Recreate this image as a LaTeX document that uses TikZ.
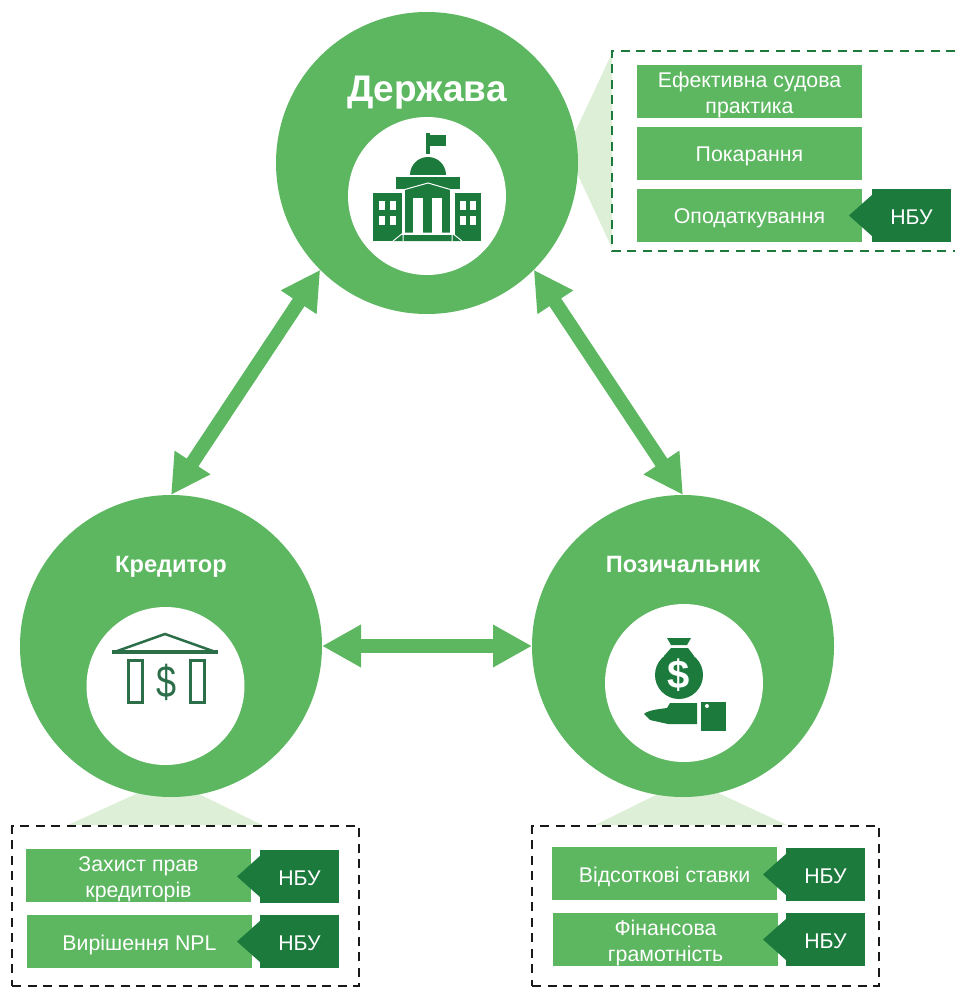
\documentclass[tikz,border=0pt]{standalone}
\usepackage{fontspec}
\setmainfont{Liberation Sans}
\usetikzlibrary{arrows.meta}
\definecolor{mygreen}{HTML}{5DB761}
\definecolor{mydark}{HTML}{1C7A3D}
\definecolor{mylight}{HTML}{DDEFD6}
\definecolor{myicon}{HTML}{2B6E48}
\tikzset{
  bigcircle/.style={circle,fill=mygreen,minimum size=302pt,inner sep=0pt,outer sep=0pt},
  whitecircle/.style={circle,fill=white,minimum size=158pt,inner sep=0pt,outer sep=0pt},
  item/.style={fill=mygreen,minimum width=225pt,minimum height=53pt,inner sep=0pt,outer sep=0pt},
  itemtext/.style={text=white,inner sep=0pt,align=center,font=\fontsize{21.3}{26}\selectfont},
  tag/.style={fill=mydark,text=white,minimum width=79pt,minimum height=53pt,inner sep=0pt,outer sep=0pt,text height=17pt,text depth=0pt,font=\fontsize{21.3}{26}\selectfont},
  title/.style={text=white,anchor=base,font=\bfseries\fontsize{23.6}{28}\selectfont,inner sep=0pt},
  dbl/.style={mygreen,line width=14pt,{Triangle[width=40pt,length=39pt]}-{Triangle[width=40pt,length=39pt]}},
  dashbox/.style={line width=2.7pt,dash pattern=on 9pt off 6.5pt},
}
\newcommand{\nbutag}[3]{%
  \fill[mydark] (#2-39,#3-21) -- (#2-62.5,#3) -- (#2-39,#3+21) -- cycle;
  \node[tag] (#1) at (#2,#3) {НБУ};
}
\newcommand{\itembox}[5]{%
  \node[item] (#1) at (#2,#3) {};
  \node[itemtext] (#1t) at (#2,#3+#4) {#5};
}
\begin{document}
\begin{tikzpicture}[x=1pt,y=-1pt]
\useasboundingbox (0,0) rectangle (955,987);
% light wedges
\fill[mylight] (612,53) -- (576,130) -- (560,150) -- (560,176) -- (577,173) -- (612,248) -- cycle;
\fill[mylight] (68,825) -- (138,793) -- (171,780) -- (197,793) -- (262,825) -- cycle;
\fill[mylight] (595,825) -- (658,794) -- (688,780) -- (718,793) -- (787,825) -- cycle;
% dashed frames
\draw[mydark,dashbox] (955,51) -- (612,51) -- (612,251) -- (955,251);
\node[draw=black!90,dashbox,minimum width=347pt,minimum height=160pt,inner sep=0pt] (framea) at (185.5,906) {};
\node[draw=black!90,dashbox,minimum width=347pt,minimum height=160pt,inner sep=0pt] (frameb) at (705.5,906) {};
% circles
\node[bigcircle] (dz) at (427,163) {};
\node[bigcircle] (kr) at (171,646) {};
\node[bigcircle] (pz) at (683,646) {};
\node[whitecircle] (dzw) at (427,196) {};
\node[whitecircle] (krw) at (165.5,686) {};
\node[whitecircle] (pzw) at (684,683) {};
\node[title,font=\bfseries\fontsize{37}{40}\selectfont] (dzt) at (427,102) {Держава};
\node[title] (krt) at (171,572) {Кредитор};
\node[title] (pzt) at (683,572) {Позичальник};
% connectors
\draw[dbl] (dz.225) -- (kr.north);
\draw[dbl] (dz.-45) -- (pz.north);
\draw[dbl] (kr.east) -- (pz.west);
% items
\itembox{i1}{749.5}{91.5}{3.5}{Ефективна судова\\практика}
\itembox{i2}{749.5}{153.5}{3}{Покарання}
\itembox{i3}{749.5}{215.5}{3}{Оподаткування}
\nbutag{t3}{911.5}{215.5}
\itembox{i4}{138.5}{875.5}{3.5}{Захист прав\\кредиторів}
\itembox{i5}{139.5}{941.5}{3}{Вирішення NPL}
\nbutag{t4}{299.5}{876.5}
\nbutag{t5}{299.5}{941.5}
\itembox{i6}{664.5}{873.5}{3}{Відсоткові ставки}
\itembox{i7}{665.5}{939.5}{3.5}{Фінансова\\грамотність}
\nbutag{t6}{825.5}{874.5}
\nbutag{t7}{825.5}{939.5}
% building icon
\fill[mydark] (426,133) rectangle (430,154);
\fill[mydark] (430,135) rectangle (446,146);
\fill[mydark] (410,175) arc[start angle=180,end angle=360,radius=18] -- cycle;
\fill[mydark] (396,177) rectangle (460,189);
\fill[mydark] (373,193) rectangle (402,241);
\fill[mydark] (455,193) rectangle (481,241);
\fill[mydark] (405,186) rectangle (450,233);
\fill[mydark] (398,235) -- (457,235) -- (462,241) -- (393,241) -- cycle;
\draw[white,line width=1pt] (403,241) -- (403,190) -- (428,183) -- (452,190) -- (452,241);
\draw[white,line width=1pt] (393,241) -- (403,233) -- (452,233) -- (462,241);
\fill[white] (413,198) rectangle (423,233);
\fill[white] (432,198) rectangle (442,233);
\foreach \wx in {379,390,460,470}\foreach \wy in {201,216}{\fill[white] (\wx,\wy) rectangle (\wx+6,\wy+9);}
% bank icon
\draw[myicon,line width=2.5pt,line join=miter] (113,652.5) -- (165,634) -- (217,652.5);
\draw[myicon,line width=4pt] (112,652) -- (218,652);
\draw[myicon,line width=3pt] (128,660) rectangle (142,702);
\draw[myicon,line width=3pt] (190,660) rectangle (204,702);
\node[text=myicon,inner sep=0pt,yscale=1.25,font=\fontsize{36}{40}\selectfont] (krd) at (167,682) {\$};
% money bag icon
\fill[mydark] (667,638) -- (691,638) -- (687,645) -- (671,645) -- cycle;
\fill[mydark] (671,648) -- (688,648) -- (694,656) -- (664,656) -- cycle;
\fill[mydark] (679,675) circle[radius=24];
\node[text=white,inner sep=0pt,font=\bfseries\fontsize{40}{44}\selectfont] (pzd) at (679,675) {\$};
\fill[mydark] (644,714) .. controls (648,710) and (660,709) .. (667,708) -- (670,703) -- (697,703) -- (697,724) -- (668,724) -- (650,720) -- cycle;
\fill[mydark] (701,702) rectangle (726,731);
\fill[white] (707,706) circle[radius=2];
\end{tikzpicture}
\end{document}
